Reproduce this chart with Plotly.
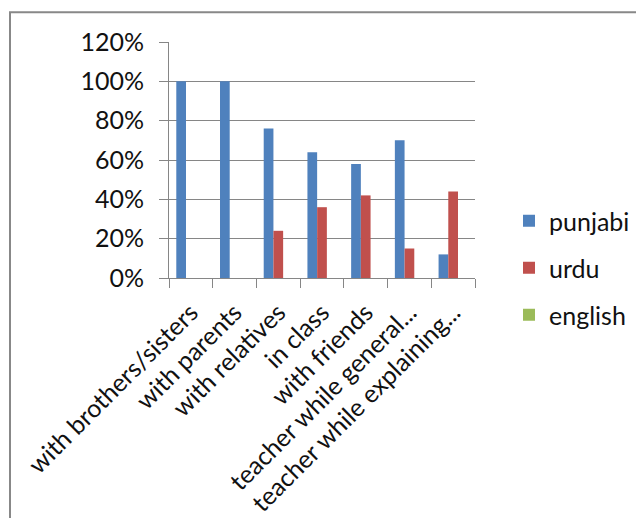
import plotly.graph_objects as go

categories = ["with brothers/sisters", "with parents", "with relatives", "in class",
              "with friends", "teacher while general...", "teacher while explaining..."]
punjabi = [1.00, 1.00, 0.76, 0.64, 0.58, 0.70, 0.12]
urdu = [0.0, 0.0, 0.24, 0.36, 0.42, 0.15, 0.44]
english = [0, 0, 0, 0, 0, 0, 0]
series_names = ["punjabi", "urdu", "english"]
colors = ["#4F81BD", "#C0504D", "#9BBB59"]

FONT = "Lato"
FS = 25
fig = go.Figure()
for i, (name, vals) in enumerate(zip(series_names, [punjabi, urdu, english])):
    fig.add_trace(go.Bar(x=categories, y=vals, name=name, marker_color=colors[i],
                         marker_line_width=0, legendgroup=name))

W, H = 636, 518
L, R, T, B = 169, 475, 42.3, 278.3
pw, ph = R - L, B - T

fig.update_layout(
    width=W, height=H,
    margin=dict(l=L, r=W - R, t=T, b=H - B, pad=0, autoexpand=False),
    paper_bgcolor="white", plot_bgcolor="white",
    barmode="group", bargap=1.5 / 4.5, bargroupgap=0,
    font=dict(family=FONT, size=FS, color="#111111"),
    legend=dict(xref="container", yref="container", x=509 / W, y=1 - 198 / H,
                xanchor="left", yanchor="top",
                font=dict(size=FS), tracegroupgap=11.5, traceorder="grouped",
                bgcolor="rgba(0,0,0,0)"),
    showlegend=True,
)
fig.update_yaxes(range=[0, 1.2], dtick=0.2, tickformat=".0%", showgrid=True,
                 gridcolor="#868686", gridwidth=1, showline=True, linecolor="#868686",
                 linewidth=1, ticks="outside", ticklen=9, tickcolor="#868686",
                 zeroline=False, tickfont=dict(size=FS), ticklabelstandoff=10)
fig.update_xaxes(showline=True, linecolor="#868686", linewidth=1, ticks="outside",
                 ticklen=9, tickcolor="#868686", tickson="boundaries", tickangle=-45,
                 tickfont=dict(size=FS), showgrid=False, ticklabelstandoff=9)

x0 = (10 - L) / pw
y0 = (B - 12.5) / ph
fig.add_shape(type="rect", xref="paper", yref="paper", x0=x0, y0=-3, x1=3, y1=y0,
              line=dict(color="#888888", width=2), fillcolor="rgba(0,0,0,0)", layer="below")

fig.write_html("out.html")
